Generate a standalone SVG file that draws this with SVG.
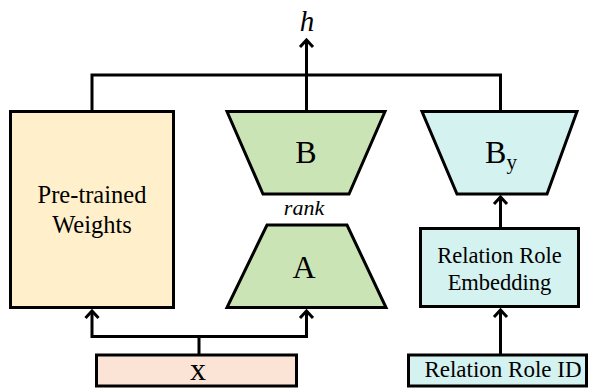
<svg xmlns="http://www.w3.org/2000/svg" width="589" height="388" viewBox="0 0 589 388">
<defs>
<style>
.s{stroke:#000;stroke-width:3;}
.ln{fill:none;stroke:#000;stroke-width:3;}
.hd{fill:none;stroke:#000;stroke-width:3;stroke-linecap:butt;stroke-linejoin:miter;}
.t{font-family:"Liberation Serif","Times New Roman",serif;fill:#000;text-anchor:middle;}
</style>
</defs>
<rect width="589" height="388" fill="#fff"/>
<g id="connectors">
<polyline class="ln" points="92,111 92,75 500.5,75 500.5,111"/>
<line class="ln" x1="306.5" y1="111" x2="306.5" y2="40"/>
<polyline class="hd" points="300,47 306.5,40 313,47"/>
<polyline class="ln" points="92,311 92,336.5 306.5,336.5 306.5,311"/>
<line class="ln" x1="199" y1="336.5" x2="199" y2="355"/>
<polyline class="hd" points="85.5,318 92,311 98.5,318"/>
<polyline class="hd" points="300,318 306.5,311 313,318"/>
<line class="ln" x1="500.5" y1="228" x2="500.5" y2="197"/>
<polyline class="hd" points="494,204 500.5,197 507,204"/>
<line class="ln" x1="500.5" y1="354" x2="500.5" y2="310"/>
<polyline class="hd" points="494,317 500.5,310 507,317"/>
</g>
<g id="h">
<text class="t" x="307" y="31" font-size="29" font-style="italic">h</text>
</g>
<g id="pretrained">
<rect class="s" x="10.5" y="111.5" width="163" height="196" fill="#fff0cb"/>
<text class="t" x="92" y="203" font-size="24.5">Pre-trained</text>
<text class="t" x="92" y="233" font-size="24.5">Weights</text>
</g>
<g id="B">
<polygon class="s" points="227,111.5 385,111.5 349,194 263,194" fill="#cbe4b5"/>
<text class="t" x="306" y="163" font-size="32">B</text>
</g>
<g id="rank">
<text class="t" x="304" y="215" font-size="22" font-style="italic">rank</text>
</g>
<g id="A">
<polygon class="s" points="267,225 347,225 386,307.5 227,307.5" fill="#cbe4b5"/>
<text class="t" x="304" y="278" font-size="32">A</text>
</g>
<g id="By">
<polygon class="s" points="422,111.5 577,111.5 547,194 457,194" fill="#d4f2f0"/>
<text class="t" x="501" y="163" font-size="32">B<tspan font-size="21" dy="6">y</tspan></text>
</g>
<g id="embedding">
<rect class="s" x="420.5" y="228.5" width="158" height="78" fill="#d4f2f0"/>
<text class="t" x="499.5" y="263" font-size="22.5">Relation Role</text>
<text class="t" x="499.5" y="290" font-size="22.5">Embedding</text>
</g>
<g id="roleid">
<rect class="s" x="408.5" y="355" width="178" height="31" fill="#d4f2f0"/>
<text class="t" x="503" y="377" font-size="23">Relation Role ID</text>
</g>
<g id="x">
<rect class="s" x="96.5" y="355" width="200" height="31" fill="#fbe4d5"/>
<text class="t" x="198" y="380" font-size="32">x</text>
</g>
</svg>
